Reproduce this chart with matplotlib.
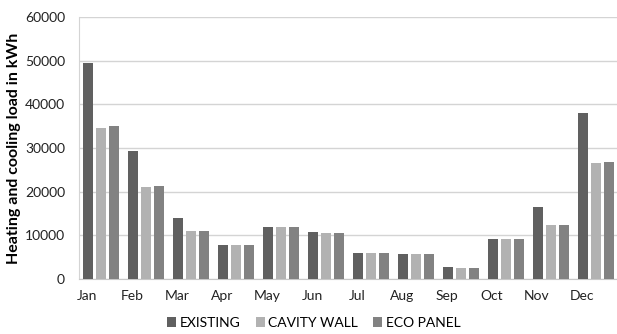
import matplotlib.pyplot as plt
import numpy as np

months = ['Jan', 'Feb', 'Mar', 'Apr', 'May', 'Jun',
          'Jul', 'Aug', 'Sep', 'Oct', 'Nov', 'Dec']
existing = [49500, 29200, 14000, 7800, 11900, 10700, 6000, 5800, 2700, 9100, 16500, 38000]
cavity_wall = [34600, 21000, 11000, 7800, 11800, 10500, 5900, 5700, 2600, 9200, 12400, 26600]
eco_panel = [35000, 21200, 10900, 7800, 11800, 10500, 5900, 5700, 2600, 9200, 12400, 26800]

series = [('EXISTING', existing, '#606060'),
          ('CAVITY WALL', cavity_wall, '#b2b2b2'),
          ('ECO PANEL', eco_panel, '#828282')]

plt.rcParams['font.family'] = ['Lato', 'DejaVu Sans']

fig = plt.figure(figsize=(6.17, 3.34), dpi=100)
ax = fig.add_axes([79 / 617, 1 - 279 / 334, 540 / 617, 262 / 334])

x = np.arange(len(months))
width = 10 / 45
step = 13 / 45
for k, (name, vals, col) in enumerate(series):
    ax.bar(x + k * step, vals, width=width, align='edge', color=col, label=name, zorder=3)

ax.set_xlim(-4 / 45, 12 - 4 / 45)
ax.set_ylim(0, 60000)
ax.set_yticks(range(0, 60001, 10000))
ax.set_xticks(x + 4 / 45)
ax.set_xticklabels(months)
ax.tick_params(axis='both', length=0, labelsize=10, colors='#222222')
ax.tick_params(axis='x', pad=8)
ax.tick_params(axis='y', pad=10)
ax.grid(axis='y', color='#d4d4d4', linewidth=1, zorder=0)
for s in ['top', 'right']:
    ax.spines[s].set_visible(False)
ax.spines['left'].set_color('#d4d4d4')
ax.spines['bottom'].set_color('#c8c8c8')

ax.set_ylabel('Heating and cooling load in kWh', fontsize=11.5, fontweight='bold', labelpad=3)

fig.legend(loc='center', bbox_to_anchor=(314 / 617, 1 - 323 / 334), ncol=3, frameon=False,
           fontsize=10, handlelength=0.65, handleheight=0.65, handletextpad=0.25,
           columnspacing=1.1, borderpad=0)

fig.savefig('out.png', dpi=100)
